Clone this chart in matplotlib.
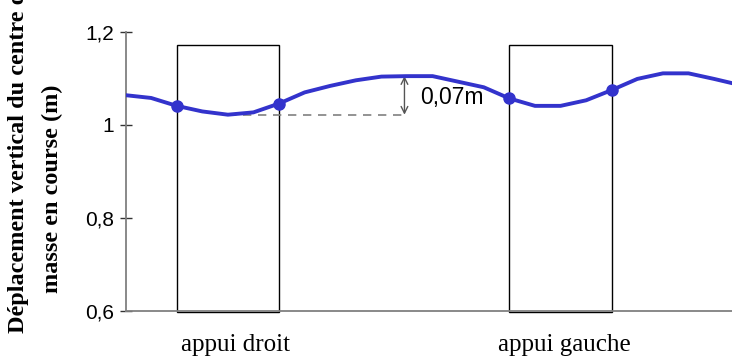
import matplotlib
matplotlib.use("Agg")
import matplotlib.pyplot as plt
from matplotlib.patches import Rectangle
import matplotlib.transforms as mtransforms

# données (un point par pas de temps)
idx = list(range(25))
hauteur = [1.064, 1.058, 1.041, 1.029, 1.022, 1.027, 1.046, 1.070, 1.084,
           1.096, 1.104, 1.105, 1.105, 1.093, 1.081, 1.057, 1.041, 1.041,
           1.053, 1.075, 1.099, 1.111, 1.111, 1.099, 1.086]
marqueurs = [2, 6, 15, 19]  # début / fin des appuis

appuis = [(2, 6), (15, 19)]
appui_labels = ["appui droit", "appui gauche"]
appui_label_x = [4.28, 17.13]

yticks = [0.6, 0.8, 1.0, 1.2]
ytick_labels = ["0,6", "0,8", "1", "1,2"]

amp_x = 10.9
amp_bas = 1.022
amp_haut = 1.105
amp_txt = "0,07m"

SERIF = "Liberation Serif"
SANS = "Liberation Sans"
BLEU = "#3333CC"
GRIS = "#808080"

fig = plt.figure(figsize=(7.32, 3.56), dpi=100)
ax = fig.add_axes([0.1715, 0.1272, 0.8285, 0.7829])

# rectangles des phases d'appui
for (a, b) in appuis:
    ax.add_patch(Rectangle((a, 0.597), b - a, 1.171 - 0.597, fill=False,
                           edgecolor="black", lw=1.0, clip_on=False, zorder=2))

# courbe du centre de masse
ax.plot(idx, hauteur, color=BLEU, lw=2.8, zorder=4, clip_on=True)
ax.plot([idx[i] for i in marqueurs], [hauteur[i] for i in marqueurs], "o",
        color=BLEU, ms=8, zorder=5)

# amplitude 0,07 m
ax.plot([4, 11], [amp_bas, amp_bas], ls=(0, (5, 4)), color=GRIS, lw=1.2, zorder=3)
ax.annotate("", xy=(amp_x, amp_haut), xytext=(amp_x, amp_bas),
            arrowprops=dict(arrowstyle="<->", color="#555555", lw=1.0,
                            shrinkA=0, shrinkB=0, mutation_scale=12))
ax.text(amp_x + 0.62, (amp_bas + amp_haut) / 2 - 0.004, amp_txt, fontsize=16.5,
        family=SANS, va="center", ha="left")

ax.set_xlim(0, 23.7)
ax.set_ylim(0.6, 1.2)
ax.set_yticks(yticks)
ax.set_yticklabels(ytick_labels, family=SANS, fontsize=15)
ax.tick_params(axis="y", direction="inout", length=9, width=1.0, color="#333333", pad=4)
ax.set_xticks([])

for s in ["top", "right"]:
    ax.spines[s].set_visible(False)
ax.spines["left"].set_color(GRIS)
ax.spines["bottom"].set_color(GRIS)
ax.spines["left"].set_linewidth(1.3)
ax.spines["bottom"].set_linewidth(1.3)

# étiquettes des appuis
trans = mtransforms.blended_transform_factory(ax.transData, fig.transFigure)
for x, lab in zip(appui_label_x, appui_labels):
    ax.text(x, 1 - 351 / 356, lab, transform=trans, ha="center", va="baseline",
            family=SERIF, fontsize=18)

# titre de l'axe vertical (deux lignes)
fig.text(19 / 732, 1 - 333 / 356, "Déplacement vertical du centre de",
         rotation=90, ha="center", va="bottom", family=SERIF,
         fontweight="bold", fontsize=17.5)
fig.text(52 / 732, 1 - 189 / 356, "masse en course (m)",
         rotation=90, ha="center", va="center", family=SERIF,
         fontweight="bold", fontsize=17.5)

fig.savefig("out.png", dpi=100)
